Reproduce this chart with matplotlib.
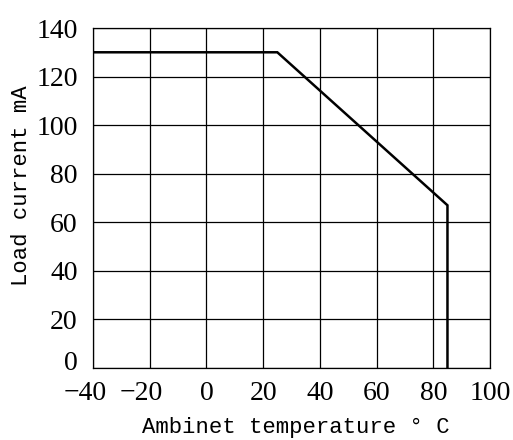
import matplotlib
matplotlib.use("Agg")
import matplotlib.pyplot as plt
from matplotlib.transforms import ScaledTranslation

# Derating curve: load current vs ambient temperature
temps = [-40, 25, 85, 85]
currents = [130, 130, 67, 0]
x_ticks = [-40, -20, 0, 20, 40, 60, 80, 100]
y_ticks = [0, 20, 40, 60, 80, 100, 120, 140]

fig = plt.figure(figsize=(5.13, 4.40), dpi=100)
ax = fig.add_axes([93 / 513, (440 - 368) / 440, (490 - 93) / 513, (368 - 28) / 440])

ax.plot(temps, currents, color="black", lw=1.8, solid_joinstyle="miter", zorder=3)

ax.set_xlim(-40, 100)
ax.set_ylim(0, 140)
ax.set_xticks(x_ticks)
ax.set_yticks(y_ticks)
ax.grid(True, color="black", lw=0.9)
for s in ax.spines.values():
    s.set_linewidth(0.9)
ax.tick_params(axis="x", length=0, pad=9)
ax.tick_params(axis="y", length=0, pad=11)
for lbl in ax.get_xticklabels() + ax.get_yticklabels():
    lbl.set_fontfamily("Liberation Serif")
    lbl.set_fontsize(20)

# nudge negative temperature labels left, and lift the zero current label
for val, lbl in zip(x_ticks, ax.get_xticklabels()):
    if val < 0:
        lbl.set_transform(lbl.get_transform() + ScaledTranslation(-0.08, 0, fig.dpi_scale_trans))
for val, lbl in zip(y_ticks, ax.get_yticklabels()):
    if val == 0:
        lbl.set_transform(lbl.get_transform() + ScaledTranslation(0, 0.08, fig.dpi_scale_trans))

lab_font = dict(family="Liberation Mono", size=16)
ax.set_xlabel("Ambinet temperature ° C", fontdict=lab_font, va="baseline")
ax.xaxis.set_label_coords(0.51, -0.192)
ax.set_ylabel("Load current mA", fontdict=lab_font, va="center")
ax.yaxis.set_label_coords(-0.179, 0.535)

fig.savefig("out.png", dpi=100)
